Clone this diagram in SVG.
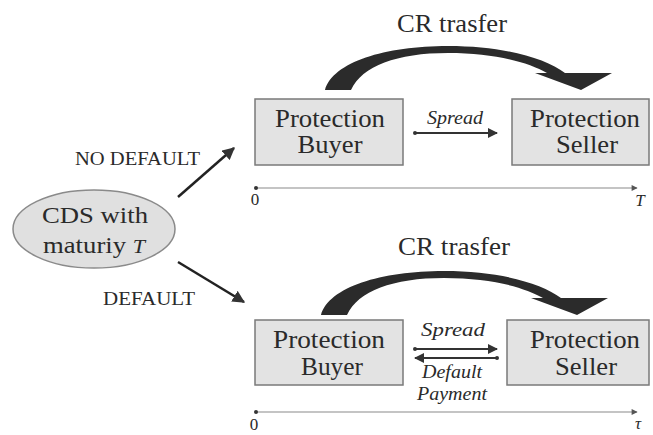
<svg xmlns="http://www.w3.org/2000/svg" width="653" height="435" viewBox="0 0 653 435">
<defs>
<style>
.t{font-family:"Liberation Serif","Times New Roman",serif;fill:#2a2a2a}
.box{fill:#e3e3e3;stroke:#7a7a7a;stroke-width:1.5}
.lbl{font-size:25px;text-anchor:middle}
.it{font-style:italic}
.ax{stroke:#8a8a8a;stroke-width:1.2;fill:none}
.ar{stroke:#333;stroke-width:2;fill:none}
.big{fill:#2b2b2b}
</style>
<marker id="ah" viewBox="0 0 10 10" refX="9" refY="5" markerWidth="5" markerHeight="5" orient="auto-start-reverse" markerUnits="strokeWidth">
<path d="M0,0 L10,5 L0,10 z" fill="#333"/>
</marker>
<marker id="ahx" viewBox="0 0 10 10" refX="9" refY="5" markerWidth="7" markerHeight="6" orient="auto" markerUnits="userSpaceOnUse">
<path d="M0,0 L10,5 L0,10 z" fill="#555"/>
</marker>
<marker id="dot" viewBox="0 0 10 10" refX="5" refY="5" markerWidth="4" markerHeight="4" markerUnits="userSpaceOnUse">
<circle cx="5" cy="5" r="5" fill="#333"/>
</marker>
<path id="cr" d="M325,90 C333,62 385,46 448,46 C503,46 545,58 565,73 L612,73 L581,90 L535,73 L547,73 C528,62 494,53 448,53 C397,53 362,66 351,90 Z"/>
</defs>
<rect width="653" height="435" fill="#ffffff"/>

<g id="cds">
<ellipse cx="94" cy="229" rx="81" ry="39" fill="#e0e0e0" stroke="#8a8a8a" stroke-width="1.5"/>
<text class="t" x="95" y="223" font-size="23" text-anchor="middle" textLength="106" lengthAdjust="spacingAndGlyphs">CDS with</text>
<text class="t" x="94" y="253" font-size="23" text-anchor="middle" textLength="102" lengthAdjust="spacingAndGlyphs">maturiy <tspan class="it" font-size="19">T</tspan></text>
</g>

<g id="buyer-top">
<rect class="box" x="255" y="99" width="148" height="66"/>
<text class="t lbl" x="330" y="127" textLength="110" lengthAdjust="spacingAndGlyphs">Protection</text>
<text class="t lbl" x="330" y="153" textLength="65" lengthAdjust="spacingAndGlyphs">Buyer</text>
</g>
<g id="seller-top">
<rect class="box" x="512" y="99" width="137" height="66"/>
<text class="t lbl" x="585" y="127" textLength="110" lengthAdjust="spacingAndGlyphs">Protection</text>
<text class="t lbl" x="587" y="153" textLength="62" lengthAdjust="spacingAndGlyphs">Seller</text>
</g>
<g id="buyer-bottom">
<rect class="box" x="255" y="320" width="148" height="65"/>
<text class="t lbl" x="329" y="348" textLength="112" lengthAdjust="spacingAndGlyphs">Protection</text>
<text class="t lbl" x="332" y="375" textLength="62" lengthAdjust="spacingAndGlyphs">Buyer</text>
</g>
<g id="seller-bottom">
<rect class="box" x="507" y="320" width="142" height="65"/>
<text class="t lbl" x="585" y="348" textLength="110" lengthAdjust="spacingAndGlyphs">Protection</text>
<text class="t lbl" x="586" y="375" textLength="62" lengthAdjust="spacingAndGlyphs">Seller</text>
</g>

<g id="connectors">
<line x1="178" y1="197" x2="234" y2="148" stroke="#222" stroke-width="2.5" marker-end="url(#ah)"/>
<line x1="178" y1="262" x2="244" y2="302" stroke="#222" stroke-width="2.5" marker-end="url(#ah)"/>
<text class="t" x="137.5" y="165" font-size="18" text-anchor="middle" textLength="125" lengthAdjust="spacingAndGlyphs">NO DEFAULT</text>
<text class="t" x="149" y="305" font-size="18" text-anchor="middle" textLength="92" lengthAdjust="spacingAndGlyphs">DEFAULT</text>

<use href="#cr" class="big"/>
<text class="t" x="452" y="32" font-size="25" text-anchor="middle" textLength="110" lengthAdjust="spacingAndGlyphs">CR trasfer</text>
<use href="#cr" class="big" transform="translate(-4,225)"/>
<text class="t" x="454" y="255" font-size="25" text-anchor="middle" textLength="112" lengthAdjust="spacingAndGlyphs">CR trasfer</text>

<line class="ar" x1="415" y1="133" x2="497" y2="133" marker-start="url(#dot)" marker-end="url(#ah)"/>
<text class="t it" x="455" y="124" font-size="18" text-anchor="middle" textLength="56" lengthAdjust="spacingAndGlyphs">Spread</text>

<line class="ar" x1="415" y1="349" x2="497" y2="349" marker-start="url(#dot)" marker-end="url(#ah)"/>
<line class="ar" x1="497" y1="358" x2="415" y2="358" marker-start="url(#dot)" marker-end="url(#ah)"/>
<text class="t it" x="453" y="336" font-size="18" text-anchor="middle" textLength="64" lengthAdjust="spacingAndGlyphs">Spread</text>
<text class="t it" x="452" y="378" font-size="18" text-anchor="middle" textLength="60" lengthAdjust="spacingAndGlyphs">Default</text>
<text class="t it" x="452" y="400" font-size="18" text-anchor="middle" textLength="70" lengthAdjust="spacingAndGlyphs">Payment</text>

<line class="ax" x1="256" y1="188" x2="637" y2="188" marker-start="url(#dot)" marker-end="url(#ahx)"/>
<text class="t" x="255" y="205" font-size="17" text-anchor="middle">0</text>
<text class="t it" x="640" y="206" font-size="17" text-anchor="middle">T</text>

<line class="ax" x1="256" y1="412" x2="637" y2="412" marker-start="url(#dot)" marker-end="url(#ahx)"/>
<text class="t" x="254" y="430" font-size="17" text-anchor="middle">0</text>
<text class="t it" x="638" y="429" font-size="17" text-anchor="middle">τ</text>
</g>
</svg>
